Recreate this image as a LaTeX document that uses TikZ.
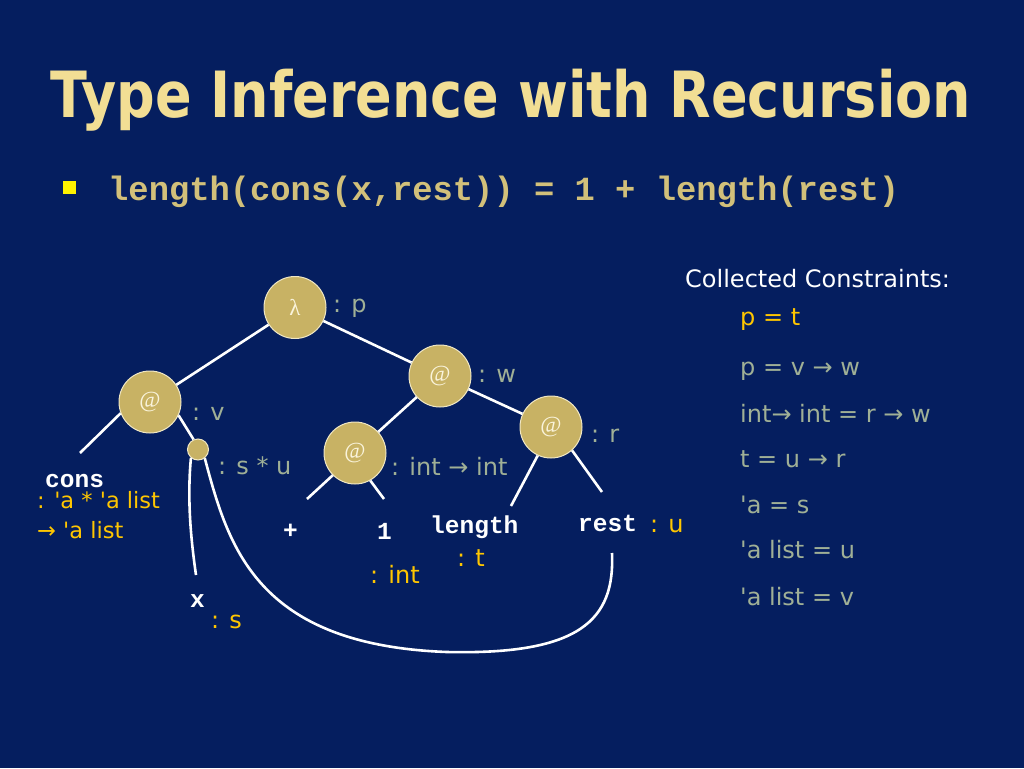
\documentclass[tikz,border=0pt]{standalone}
\usepackage{fontspec}
\setmainfont{DejaVu Sans}
\newfontfamily\monofont{Liberation Mono}
\newfontfamily\serffont{Liberation Serif}
\definecolor{bg}{RGB}{5,30,95}
\definecolor{tanfill}{RGB}{200,178,100}
\definecolor{titlecol}{RGB}{242,222,148}
\definecolor{bulletcol}{RGB}{210,192,122}
\definecolor{graylab}{RGB}{160,176,150}
\definecolor{yellab}{RGB}{255,198,0}
\definecolor{cream}{RGB}{250,244,220}
\newcommand{\q}{\textquotesingle}
\tikzset{
  apnode/.style={circle,fill=tanfill,draw=cream!80!tanfill,line width=1pt,minimum size=62pt,inner sep=0pt,
    font=\serffont\fontsize{23}{23}\selectfont,text=cream},
  smallnode/.style={circle,fill=tanfill,draw=cream!80!tanfill,line width=1pt,minimum size=21pt,inner sep=0pt},
  edge/.style={draw=white,line width=2.6pt},
  lab/.style={inner sep=0pt,anchor=base west,font=\fontsize{24}{28}\selectfont},
  glab/.style={lab,text=graylab},
  ylab/.style={lab,text=yellab},
  wlab/.style={lab,text=white},
  code/.style={inner sep=0pt,anchor=base west,text=white,font=\monofont\bfseries\fontsize{24.5}{28}\selectfont},
}
\begin{document}
\begin{tikzpicture}[x=1pt,y=-1pt]
\fill[bg] (0,0) rectangle (1024,768);
\useasboundingbox (0,0) rectangle (1024,768);

% title
\node[inner sep=0pt,anchor=base,text=titlecol,font=\bfseries\fontsize{54}{60}\selectfont] (title) at (511,117)
  {\scalebox{1}[1.18]{Type Inference with Recursion}};
% bullet
\fill[yellow] (63,181) rectangle (76,194);
\node[inner sep=0pt,anchor=base west,text=bulletcol,font=\monofont\bfseries\fontsize{33.8}{38}\selectfont] (code) at (108,200)
  {length(cons(x,rest)) = 1 + length(rest)};

% tree nodes
\node[apnode] (lam) at (295,307.5) {λ};
\node[apnode] (a1) at (150,402) {@};
\node[smallnode] (s) at (198,449.5) {};
\node[apnode] (a2) at (440,376) {@};
\node[apnode] (a3) at (551,427) {@};
\node[apnode] (a4) at (355,453) {@};

% free end points
\coordinate (econs) at (80,453);
\coordinate (ex) at (196,575);
\coordinate (eplus) at (307,499);
\coordinate (eone) at (384,499);
\coordinate (elen) at (511,506);
\coordinate (erest) at (602,492);
\coordinate (erestb) at (612,553);
\coordinate (ebot) at (447,652);

% edges
\draw[edge] (lam) -- (a1);
\draw[edge] (lam) -- (a2);
\draw[edge] (a2) -- (a4);
\draw[edge] (a2) -- (a3);
\draw[edge] (a1.201) -- (econs);
\draw[edge] (a1.-25) -- (s.114);
\draw[edge] (s.-130) .. controls (187,500) and (191,540) .. (ex);
\draw[edge] (s.-52) .. controls (228,545) and (255,645) .. (ebot)
  .. controls (580,655) and (615,620) .. (erestb);
\draw[edge] (a4.-135) -- (eplus);
\draw[edge] (a4.-61) -- (eone);
\draw[edge] (a3.-115) -- (elen);
\draw[edge] (a3.-48) -- (erest);

% type labels on tree
\node[glab] (lp) at (333,312) {: p};
\node[glab] (lv) at (192,420) {: v};
\node[glab] (lsu) at (218,474) {: s * u};
\node[glab] (lw) at (478,382) {: w};
\node[glab] (lr) at (591,442) {: r};
\node[glab] (lii) at (391,475) {: int → int};

% leaves
\node[code] (cons) at (45,487) {cons};
\node[ylab,font=\fontsize{22.5}{28}\selectfont] (consT1) at (37,508) {: \q a * \q a list};
\node[ylab,font=\fontsize{22.5}{28}\selectfont] (consT2) at (37,538) {→ \q a list};
\node[code] (plus) at (283,538) {+};
\node[code] (one) at (377,539) {1};
\node[ylab] (lint) at (370,583) {: int};
\node[code] (len) at (430,533) {length};
\node[ylab] (lt) at (457,566) {: t};
\node[code] (rest) at (578,531) {rest};
\node[ylab] (lu) at (650,532) {: u};
\node[code] (xx) at (190,607) {x};
\node[ylab] (ls) at (211,628) {: s};

% constraints
\node[wlab] (cc) at (685,287) {Collected Constraints:};
\node[ylab] (c1) at (740,325) {p = t};
\node[glab] (c2) at (740,375) {p = v → w};
\node[glab] (c3) at (740,422) {int→ int = r → w};
\node[glab] (c4) at (740,467) {t = u → r};
\node[glab] (c5) at (740,513) {\q a = s};
\node[glab] (c6) at (740,558) {\q a list = u};
\node[glab] (c7) at (740,605) {\q a list = v};
\end{tikzpicture}
\end{document}
